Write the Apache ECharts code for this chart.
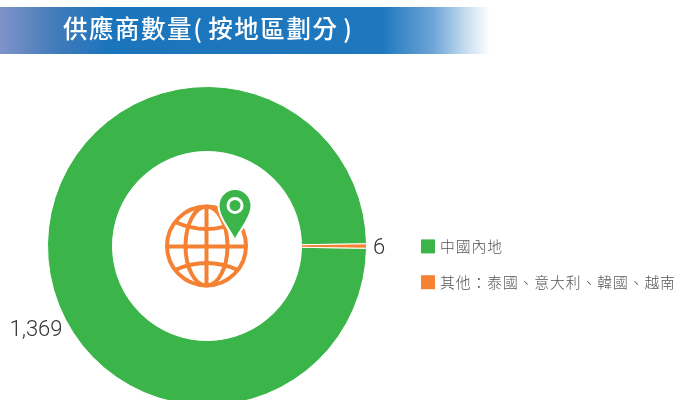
<!DOCTYPE html>
<html>
<head>
<meta charset="utf-8">
<style>
  html, body { margin: 0; padding: 0; background: #fff; }
  #chart { width: 677px; height: 400px; }
</style>
<script src="https://cdn.jsdelivr.net/npm/echarts@6/dist/echarts.min.js"></script>
</head>
<body>
<div id="chart"></div>
<script>
const titleText = '供應商數量(按地區劃分)'
const regions = ['中國內地', '其他：泰國、意大利、韓國、越南']
const counts = [1369, 6]
const colors = ['#3bb54a', '#f58233']

const font = '"Noto Sans CJK TC", sans-serif'
// hair spaces stand in for the letter spacing of the original
const spaced = (s) => s.split('').join('\u200a')

// map pin of the centre icon
echarts.graphic.registerShape('pin', echarts.graphic.extendShape({
  buildPath(ctx) {
    ctx.moveTo(235, 190)
    ctx.bezierCurveTo(226, 190, 219.5, 197, 219.5, 206)
    ctx.bezierCurveTo(219.5, 215, 229, 228, 235, 238)
    ctx.bezierCurveTo(241, 228, 250.5, 215, 250.5, 206)
    ctx.bezierCurveTo(250.5, 197, 244, 190, 235, 190)
    ctx.closePath()
  }
}))

const myChart = echarts.init(document.getElementById('chart'), null, { renderer: 'canvas' })

const globeLine = { stroke: '#f58233', fill: 'none', lineWidth: 4 }

myChart.setOption({
  animation: false,
  title: {
    text: spaced(titleText).replace('(\u200a', '(\u2009\u200a').replace('\u200a)', '\u2009\u200a)'),
    left: 63,
    top: 16,
    padding: 0,
    textStyle: { color: '#fff', fontFamily: font, fontSize: 24.5, fontWeight: 500 }
  },
  legend: {
    orient: 'vertical',
    left: 421,
    top: 239,
    itemWidth: 14,
    itemHeight: 14,
    itemGap: 21,
    itemStyle: { borderWidth: 0 },
    icon: 'rect',
    padding: 0,
    selectedMode: false,
    data: regions,
    formatter: (name) => spaced(name),
    textStyle: { color: '#555', fontFamily: font, fontSize: 14.8, fontWeight: 300 }
  },
  graphic: [
    {
      type: 'rect',
      z: -1,
      shape: { x: 0, y: 7, width: 490, height: 47 },
      style: {
        fill: new echarts.graphic.LinearGradient(0, 0, 1, 0, [
          { offset: 0, color: '#7f93c9' },
          { offset: 0.12, color: '#3f7aba' },
          { offset: 0.22, color: '#1b75bc' },
          { offset: 0.78, color: '#1f78be' },
          { offset: 0.885, color: '#6ea5d6' },
          { offset: 0.95, color: '#c5dcef' },
          { offset: 1, color: '#ffffff' }
        ])
      }
    },
    { type: 'circle', z: 10, shape: { cx: 206.5, cy: 246, r: 39.5 }, style: globeLine },
    { type: 'ellipse', z: 10, shape: { cx: 206.5, cy: 246, rx: 21, ry: 39.5 }, style: globeLine },
    { type: 'line', z: 10, shape: { x1: 206.5, y1: 206.5, x2: 206.5, y2: 285.5 }, style: globeLine },
    { type: 'line', z: 10, shape: { x1: 167, y1: 246.5, x2: 246, y2: 246.5 }, style: globeLine },
    { type: 'bezierCurve', z: 10, shape: { x1: 175, y1: 222, cpx1: 206.5, cpy1: 236, x2: 238, y2: 222 }, style: globeLine },
    { type: 'bezierCurve', z: 10, shape: { x1: 175, y1: 270, cpx1: 206.5, cpy1: 256, x2: 238, y2: 270 }, style: globeLine },
    { type: 'pin', z: 11, shape: {}, style: { fill: '#3bb54a', stroke: '#fff', lineWidth: 4, strokeFirst: true } },
    { type: 'circle', z: 12, shape: { cx: 235, cy: 205.5, r: 7 }, style: { fill: '#3bb54a', stroke: '#fff', lineWidth: 3 } }
  ],
  series: [
    {
      type: 'pie',
      center: [207, 246],
      radius: [94.5, 159.5],
      startAngle: -0.8,
      avoidLabelOverlap: false,
      itemStyle: { borderColor: '#fff', borderWidth: 1 },
      labelLine: { show: false },
      emphasis: { disabled: true },
      label: {
        show: true,
        overflow: 'none',
        formatter: (p) => p.value.toLocaleString('en-US'),
        color: '#333',
        fontFamily: 'Roboto, sans-serif',
        fontWeight: 300,
        fontSize: 22
      },
      labelLayout: (p) => p.dataIndex === 0
        ? { x: 36, y: 330, align: 'center', verticalAlign: 'middle' }
        : { x: 379, y: 248, align: 'center', verticalAlign: 'middle' },
      data: regions.map((name, i) => ({ name, value: counts[i], itemStyle: { color: colors[i] } }))
    }
  ]
})
</script>
</body>
</html>
